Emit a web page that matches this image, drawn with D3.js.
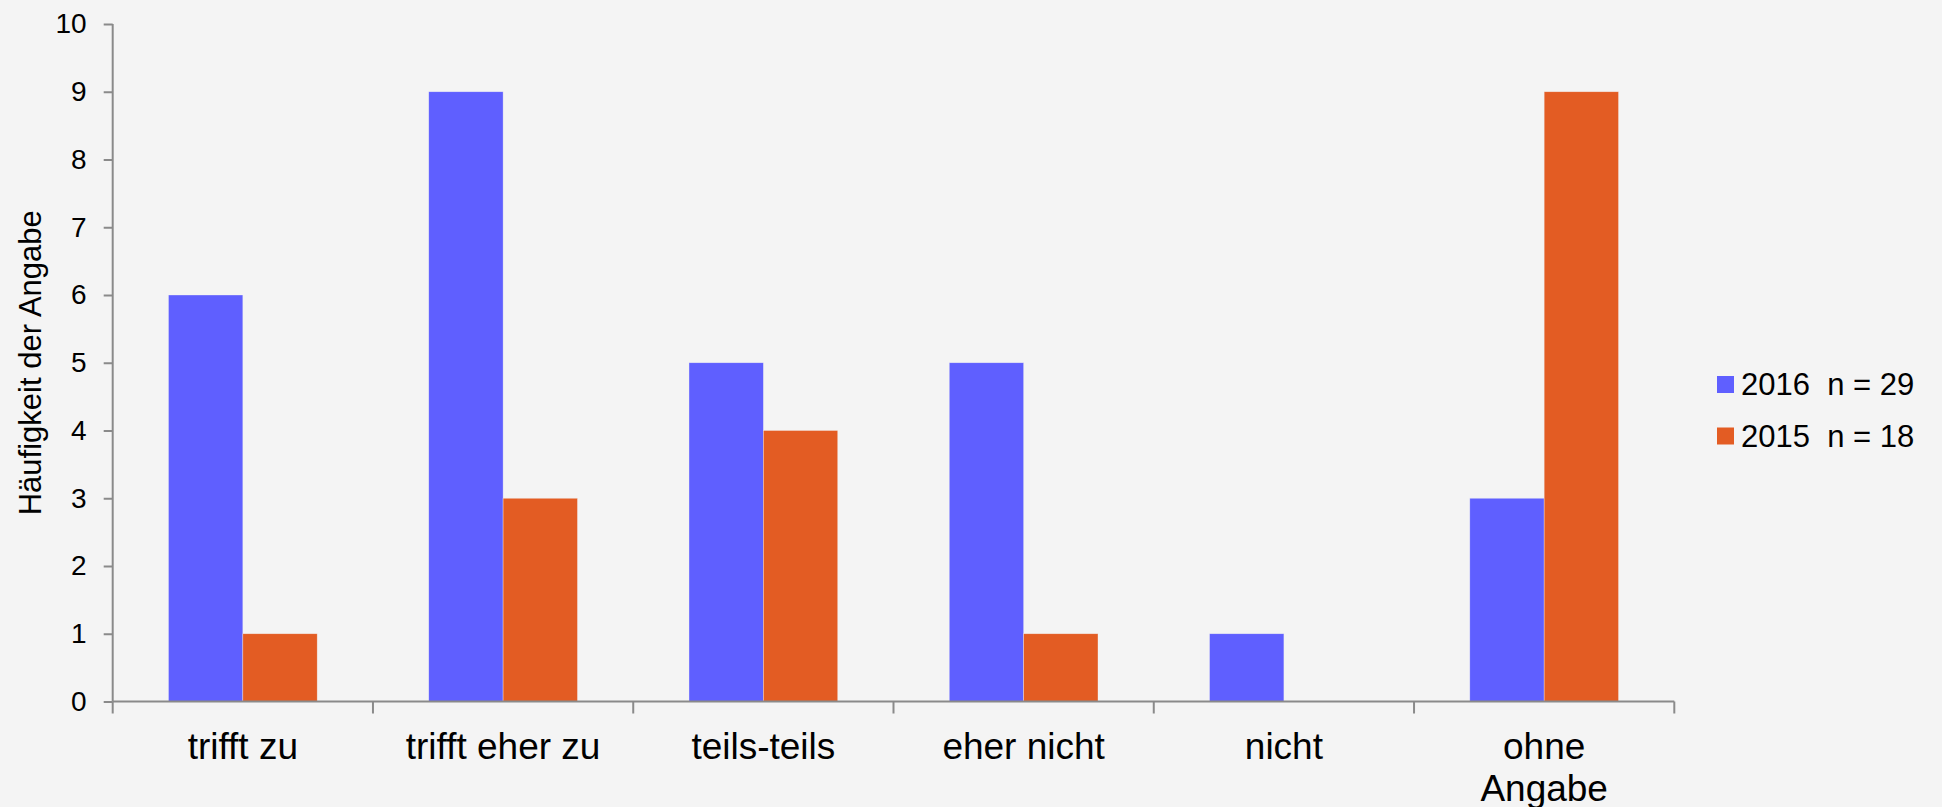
<!DOCTYPE html>
<html><head><meta charset="utf-8">
<script src="https://cdn.jsdelivr.net/npm/d3@7/dist/d3.min.js"></script>
<style>
html,body{margin:0;padding:0;background:#f4f4f4;}
svg{display:block;font-family:"Liberation Sans",Arial,sans-serif;}
</style></head>
<body>
<svg id="chart" width="1942" height="807"></svg>
<script>
const categories = ["trifft zu", "trifft eher zu", "teils-teils", "eher nicht", "nicht", "ohne Angabe"];
const seriesNames = ["2016  n = 29", "2015  n = 18"];
const values2016 = [6, 9, 5, 5, 1, 3];
const values2015 = [1, 3, 4, 1, 0, 9];
const yTicks = [0,1,2,3,4,5,6,7,8,9,10];
const colors = ["#5f5fff", "#e35c23"];
const yTitle = "Häufigkeit der Angabe";

(function(){
const svg = d3.select("#chart");
const pLeft = 112.7, pRight = 1674.3, pTop = 24, pBottom = 701.5;
const axisColor = "#8a8a8a";

const x0 = d3.scaleBand().domain(categories).range([pLeft, pRight]).padding(0);
const x1 = d3.scaleBand().domain(seriesNames).range([0, x0.bandwidth()]).paddingInner(0).paddingOuter(0.75);
const y = d3.scaleLinear().domain([0, 10]).range([pBottom, pTop]);

const seriesVals = [values2016, values2015];
const data = categories.map((c, i) => ({cat: c, vals: seriesNames.map((s, j) => ({s, j, v: seriesVals[j][i]}))}));

// bars
const g = svg.append("g");
g.selectAll("g.cat").data(data).join("g").attr("class","cat")
  .attr("transform", d => `translate(${x0(d.cat)},0)`)
  .selectAll("rect").data(d => d.vals.filter(e => e.v > 0)).join("rect")
  .attr("x", e => x1(e.s))
  .attr("width", x1.bandwidth())
  .attr("y", e => y(e.v))
  .attr("height", e => y(0) - y(e.v))
  .attr("fill", e => colors[e.j])
  .attr("stroke", "#f4f4f4").attr("stroke-width", 0.6).attr("stroke-opacity", 0.6);

// y axis
const yAxis = svg.append("g").attr("transform", `translate(${pLeft},0)`)
  .call(d3.axisLeft(y).tickValues(yTicks).tickSize(9).tickPadding(17).tickFormat(d3.format("d")));
yAxis.select(".domain").attr("stroke", axisColor).attr("stroke-width", 2).attr("d", `M0,${pTop}V${pBottom}`);
yAxis.selectAll(".tick line").attr("stroke", axisColor).attr("stroke-width", 2);
yAxis.selectAll(".tick text").attr("font-size", 28).attr("fill", "#000").attr("font-family", "Liberation Sans, Arial, sans-serif");

// x axis: ticks at band boundaries
const xAxisG = svg.append("g").attr("transform", `translate(0,${pBottom})`);
xAxisG.append("line").attr("x1", pLeft).attr("x2", pRight).attr("y1", 0).attr("y2", 0)
  .attr("stroke", axisColor).attr("stroke-width", 2);
const boundaries = categories.map(c => x0(c)).concat([x0(categories[categories.length-1]) + x0.bandwidth()]);
xAxisG.selectAll("line.tk").data(boundaries).join("line").attr("class","tk")
  .attr("x1", d => d).attr("x2", d => d).attr("y1", 0).attr("y2", 12)
  .attr("stroke", axisColor).attr("stroke-width", 2);
const labels = xAxisG.selectAll("text.cl").data(categories).join("text").attr("class","cl")
  .attr("x", c => x0(c) + x0.bandwidth()/2)
  .attr("y", 57)
  .attr("text-anchor", "middle").attr("font-size", 37).attr("fill", "#000");
labels.each(function(c){
  const t = d3.select(this);
  const parts = c === "ohne Angabe" ? ["ohne", "Angabe"] : [c];
  parts.forEach((p, i) => t.append("tspan").attr("x", x0(c) + x0.bandwidth()/2).attr("dy", i === 0 ? 0 : 42).text(p));
});

// y title
svg.append("text").attr("transform", `translate(41,${(pTop+pBottom)/2}) rotate(-90)`)
  .attr("text-anchor", "middle").attr("font-size", 31).attr("fill", "#000").text(yTitle);

// legend
const leg = svg.append("g").attr("transform", "translate(1717,376)");
const items = leg.selectAll("g").data(seriesNames).join("g").attr("transform", (d,i) => `translate(0,${i*51.5})`);
items.append("rect").attr("width", 17).attr("height", 17).attr("fill", (d,i) => colors[i]);
items.append("text").attr("x", 24).attr("y", 19).attr("font-size", 31).attr("fill", "#000")
  .style("white-space", "pre").text(d => d);
})();
</script>
</body></html>
